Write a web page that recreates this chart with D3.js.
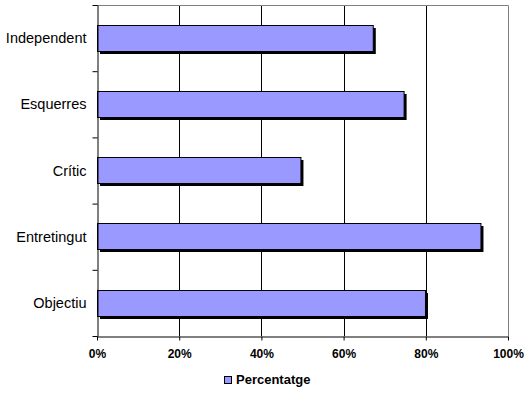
<!DOCTYPE html>
<html><head><meta charset="utf-8">
<script src="https://cdn.jsdelivr.net/npm/d3@7"></script>
<style>body{margin:0;background:#fff}svg{display:block}</style>
</head><body>
<svg id="c" width="530" height="394"></svg>
<script>
const categories = ["Independent","Esquerres","Crític","Entretingut","Objectiu"];
const values = [67.1, 74.6, 49.5, 93.3, 79.8];
const xTicks = [0,20,40,60,80,100];
const seriesName = "Percentatge";

const svg = d3.select("#c");
const L = 97, R = 508, T = 5, B = 336;
const x = d3.scaleLinear().domain([0,100]).range([L,R]);
const y = d3.scaleBand().domain(categories).range([T,B]).paddingInner(0.6).paddingOuter(0.3);
const yb = d3.scaleLinear().domain([0,categories.length]).range([T,B]);

// gridlines
svg.append("g").selectAll("line").data(xTicks.filter(d=>d>0&&d<100)).join("line")
  .attr("x1",d=>Math.round(x(d))+0.5).attr("x2",d=>Math.round(x(d))+0.5)
  .attr("y1",T).attr("y2",B).attr("stroke","#000");
// plot border top/right gray
svg.append("path").attr("d",`M${L},${T+0.5}H${R+0.5}V${B}`).attr("fill","none").attr("stroke","#808080");

// shadows
svg.append("g").selectAll("rect").data(categories).join("rect")
  .attr("x",L+3).attr("y",d=>Math.round(y(d))+3)
  .attr("width",(d,i)=>x(values[i])-L).attr("height",Math.round(y.bandwidth()))
  .attr("fill","#000");
// bars
svg.append("g").selectAll("rect").data(categories).join("rect")
  .attr("x",L+0.5).attr("y",d=>Math.round(y(d))+0.5)
  .attr("width",(d,i)=>x(values[i])-L).attr("height",Math.round(y.bandwidth()))
  .attr("fill","#9999FF").attr("stroke","#000");

// y axis
const ya = svg.append("g").attr("transform",`translate(${L+0.5},0)`)
  .call(d3.axisLeft(yb).tickValues(d3.range(categories.length+1)).tickFormat("").tickSize(5).tickSizeOuter(0));
ya.selectAll("path,line").attr("stroke","#000");
// category labels
svg.append("g").selectAll("text").data(categories).join("text")
  .attr("x",86.5).attr("y",d=>y(d)+y.bandwidth()/2).attr("dy","0.35em")
  .attr("text-anchor","end").attr("font-family","Arial, 'Liberation Sans', sans-serif")
  .attr("font-size","14.5px").text(d=>d);

// x axis
const xa = svg.append("g").attr("transform",`translate(0,${B+0.5})`)
  .call(d3.axisBottom(x).tickValues(xTicks).tickFormat(d=>d+"%").tickSize(4).tickSizeOuter(0));
xa.selectAll("path,line").attr("stroke","#000");
xa.selectAll("text").attr("font-family","Arial, 'Liberation Sans', sans-serif")
  .attr("font-size","12px").attr("font-weight","bold").attr("fill","#000").attr("dy","0.71em").attr("y",13);

// legend
const lg = svg.append("g");
lg.append("rect").attr("x",224.5).attr("y",376.5).attr("width",7).attr("height",7).attr("fill","#9999FF").attr("stroke","#000");
lg.append("text").attr("x",236).attr("y",384).attr("font-family","Arial, 'Liberation Sans', sans-serif")
  .attr("font-size","13px").attr("font-weight","bold").text(seriesName);
</script>
</body></html>
